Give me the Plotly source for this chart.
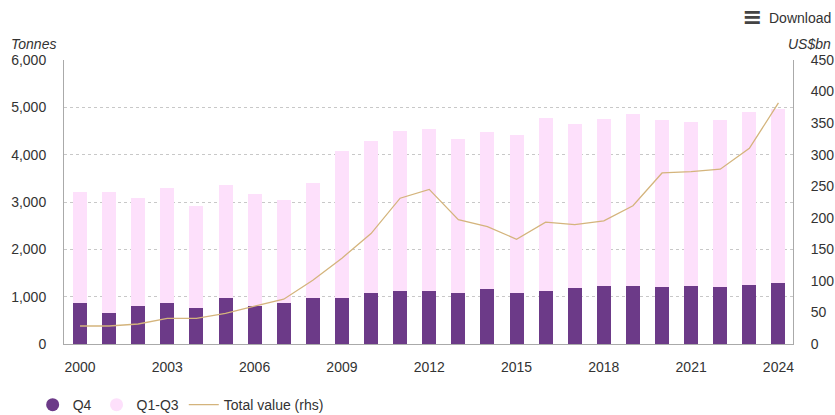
import plotly.graph_objects as go

years = list(range(2000, 2025))
q4 = [857, 657, 800, 857, 764, 971, 800, 857, 971, 971, 1086, 1121, 1121, 1086, 1171,
      1086, 1121, 1193, 1229, 1236, 1214, 1229, 1214, 1257, 1286]
total_tonnes = [3210, 3210, 3090, 3300, 2920, 3355, 3165, 3050, 3405, 4080, 4290, 4505, 4540,
                4325, 4485, 4420, 4765, 4650, 4750, 4860, 4725, 4680, 4725, 4905, 4970]
q1_q3 = [t - q for t, q in zip(total_tonnes, q4)]
total_value = [28.5, 28.5, 31.7, 40.7, 40.7, 48.6, 60, 71, 101, 136, 175, 231, 245, 197,
               186, 166, 193, 189, 195, 219, 271, 273, 277, 310, 382]
xtick_vals = [2000, 2003, 2006, 2009, 2012, 2015, 2018, 2021, 2024]

C_Q4 = "#6c3a88"
C_Q13 = "#fde0fb"
C_LINE = "#d4b47c"
FONT = "Liberation Sans, Arial, sans-serif"
TXT = "#333"

fig = go.Figure()
fig.add_trace(go.Bar(x=years, y=q4, name="Q4", marker=dict(color=C_Q4, line=dict(width=0)),
                     showlegend=False))
fig.add_trace(go.Bar(x=years, y=q1_q3, name="Q1-Q3", marker=dict(color=C_Q13, line=dict(width=0)),
                     showlegend=False))
fig.add_trace(go.Scatter(x=years, y=total_value, name="Total value (rhs)", yaxis="y2",
                         mode="lines", line=dict(color=C_LINE, width=1.3), showlegend=False))
# legend proxies
fig.add_trace(go.Scatter(x=[None], y=[None], mode="markers", name="Q4",
                         marker=dict(symbol="circle", size=13, color=C_Q4)))
fig.add_trace(go.Scatter(x=[None], y=[None], mode="markers", name="Q1-Q3",
                         marker=dict(symbol="circle", size=13, color=C_Q13)))
fig.add_trace(go.Scatter(x=[None], y=[None], mode="lines", name="Total value (rhs)",
                         line=dict(color=C_LINE, width=1.3)))

fig.update_layout(
    width=835, height=415,
    margin=dict(l=64, r=42, t=60, b=71, autoexpand=False),
    barmode="stack", bargap=0.52,
    plot_bgcolor="white", paper_bgcolor="white",
    font=dict(family=FONT, size=14, color=TXT),
    xaxis=dict(range=[1999.45, 2024.5], tickvals=xtick_vals, showgrid=False,
               showline=True, linecolor="#aaa", linewidth=1, ticks="", automargin=False,
               tickfont=dict(size=14, color=TXT), zeroline=False, ticklabelstandoff=10),
    yaxis=dict(range=[0, 6000], dtick=1000, tickformat=",d", showgrid=True,
               gridcolor="#c8c8c8", griddash="dot", gridwidth=1, automargin=False,
               showline=True, linecolor="#aaa", linewidth=1, zeroline=False,
               tickfont=dict(size=14, color=TXT), ticks="", ticklabelstandoff=14),
    yaxis2=dict(range=[0, 450], dtick=50, overlaying="y", side="right", showgrid=False,
                showline=True, linecolor="#aaa", linewidth=1, zeroline=False, automargin=False,
                tickfont=dict(size=14, color=TXT), ticks="", ticklabelstandoff=14),
    legend=dict(orientation="h", x=-0.043, y=-0.215, xanchor="left", yanchor="middle",
                font=dict(size=14, color=TXT), itemwidth=30, traceorder="normal",
                bgcolor="rgba(0,0,0,0)"),
    annotations=[
        dict(text="<i>Tonnes</i>", xref="paper", yref="paper", x=-0.075, y=1.057,
             xanchor="left", yanchor="middle", showarrow=False, font=dict(size=14, color=TXT)),
        dict(text="<i>US$bn</i>", xref="paper", yref="paper", x=1.055, y=1.057,
             xanchor="right", yanchor="middle", showarrow=False, font=dict(size=14, color=TXT)),
        dict(text="Download", xref="paper", yref="paper", x=1.055, y=1.148,
             xanchor="right", yanchor="middle", showarrow=False, font=dict(size=14, color=TXT)),
        dict(text="<b>≡</b>", xref="paper", yref="paper", x=0.944, y=1.152,
             xanchor="center", yanchor="middle", showarrow=False,
             font=dict(family="DejaVu Sans", size=24, color="#444")),
    ],
)

fig.write_html(
    "out.html",
    config={"displayModeBar": False},
    post_script="document.body.style.margin='0';document.body.style.padding='0';"
                "document.body.style.overflow='hidden';",
)
